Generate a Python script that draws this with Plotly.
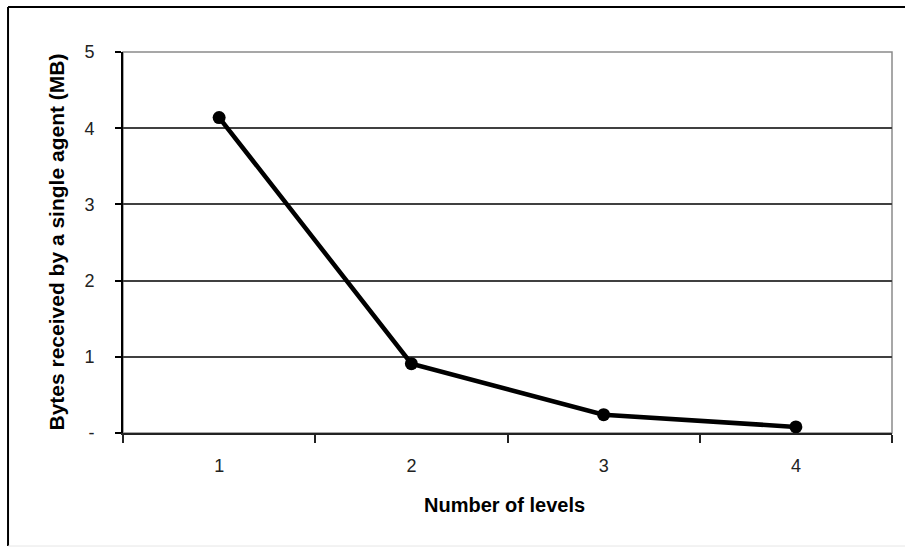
import plotly.graph_objects as go

# Data
levels = ["1", "2", "3", "4"]
bytes_mb = [4.14, 0.91, 0.24, 0.08]
y_tick_vals = [0, 1, 2, 3, 4, 5]
y_tick_text = ["-", "1", "2", "3", "4", "5"]

FONT = "Liberation Sans, Arial, sans-serif"

fig = go.Figure()
fig.add_trace(go.Scatter(
    x=levels,
    y=bytes_mb,
    mode="lines+markers",
    line=dict(color="black", width=4.5),
    marker=dict(color="black", size=13, symbol="circle"),
    showlegend=False,
    cliponaxis=False,
))

# plot-area frame (top/right in grey)
fig.add_shape(type="rect", xref="paper", yref="paper", x0=0, y0=0, x1=1, y1=1,
              line=dict(color="#8a8a8a", width=1.5), layer="below")

# outer chart frame
fig.add_shape(type="line", xref="paper", yref="paper", x0=-0.1495, x1=1.02, y0=1.118, y1=1.118,
              line=dict(color="black", width=2))
fig.add_shape(type="line", xref="paper", yref="paper", x0=-0.1495, x1=-0.1495, y0=1.118, y1=-0.2966,
              line=dict(color="black", width=2))
fig.add_shape(type="line", xref="paper", yref="paper", x0=-0.1495, x1=1.02, y0=-0.2966, y1=-0.2966,
              line=dict(color="#e6e6e6", width=1))

fig.add_annotation(text="<b>Number of levels</b>", xref="paper", yref="paper",
                   x=0.4967, y=-0.189, showarrow=False, xanchor="center", yanchor="middle",
                   font=dict(family=FONT, size=20, color="black"))
fig.add_annotation(text="<b>Bytes received by a single agent (MB)</b>", xref="paper", yref="paper",
                   x=-0.0871, y=0.5, showarrow=False, textangle=-90,
                   xanchor="center", yanchor="middle",
                   font=dict(family=FONT, size=21, color="black"))

fig.update_layout(
    width=905, height=552,
    margin=dict(l=123, r=13, t=52, b=119),
    paper_bgcolor="white",
    plot_bgcolor="white",
    font=dict(family=FONT, size=18, color="black"),
    xaxis=dict(
        type="category",
        range=[-0.5, 3.5],
        showgrid=False,
        showline=True, linecolor="#222222", linewidth=2,
        ticks="outside", tickson="boundaries", ticklen=8, tickcolor="#222222", tickwidth=1.5,
        ticklabelstandoff=15,
        tickfont=dict(family=FONT, size=18, color="#222222"),
        zeroline=False,
    ),
    yaxis=dict(
        range=[0, 5],
        tickvals=y_tick_vals, ticktext=y_tick_text,
        showgrid=True, gridcolor="#404040", gridwidth=1.5,
        showline=True, linecolor="black", linewidth=2,
        ticks="outside", ticklen=6, tickcolor="black", tickwidth=1.5,
        ticklabelstandoff=17,
        tickfont=dict(family=FONT, size=18, color="#222222"),
        zeroline=False,
    ),
)

fig.write_html("out.html")
